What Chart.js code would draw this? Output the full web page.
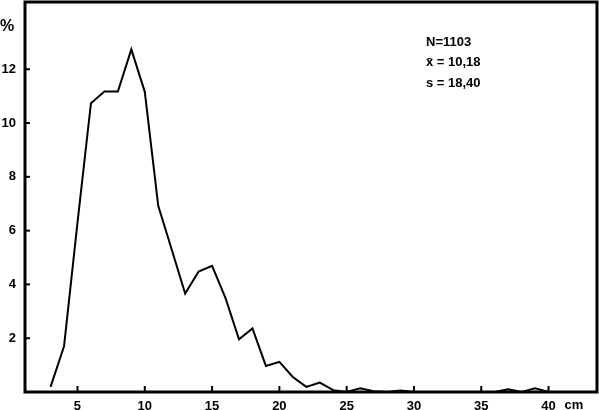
<!DOCTYPE html>
<html>
<head>
<meta charset="utf-8">
<script src="https://cdn.jsdelivr.net/npm/chart.js@4/dist/chart.umd.min.js"></script>
<style>
  html, body { margin: 0; padding: 0; background: #fff; }
  #wrap { width: 599px; height: 410px; position: relative; }
</style>
</head>
<body>
<div id="wrap"><canvas id="chart"></canvas></div>
<script>
// length classes (cm) and share of fish (%)
const lengths = [3, 4, 5, 6, 7, 8, 9, 10, 11, 12, 13, 14, 15, 16, 17, 18, 19, 20,
  21, 22, 23, 24, 25, 26, 27, 28, 29, 30, 31, 32, 33, 34, 35, 36, 37, 38, 39, 40];
const percent = [0.19, 1.7, 6.3, 10.74, 11.17, 11.17, 12.74, 11.16, 6.92, 5.3, 3.66, 4.48, 4.69, 3.49, 1.96, 2.36, 0.97, 1.12,
  0.56, 0.19, 0.35, 0.07, 0, 0.14, 0.03, 0, 0.06, 0, 0, 0, 0, 0, 0, 0, 0.1, 0, 0.14, 0];

const xTicks = [5, 10, 15, 20, 25, 30, 35, 40];
const yTicks = [2, 4, 6, 8, 10, 12];
const stats = ["N=1103", "x\u0304 = 10,18", "s = 18,40"];

const FONT = "Liberation Sans, Arial, Helvetica, sans-serif";

// frame, inward tick marks and the extra labels
const framePlugin = {
  id: "frame",
  afterDraw(chart) {
    const ctx = chart.ctx;
    const a = chart.chartArea;
    const xs = chart.scales.x;
    const ys = chart.scales.y;
    ctx.save();
    ctx.strokeStyle = "#000";

    ctx.lineWidth = 2;
    xTicks.forEach(t => {
      const px = xs.getPixelForValue(t);
      ctx.beginPath();
      ctx.moveTo(px, a.bottom);
      ctx.lineTo(px, a.bottom - 6);
      ctx.stroke();
    });
    yTicks.forEach(t => {
      const py = ys.getPixelForValue(t);
      ctx.beginPath();
      ctx.moveTo(a.left, py);
      ctx.lineTo(a.left + 5, py);
      ctx.stroke();
    });

    ctx.lineWidth = 3;
    ctx.strokeRect(a.left, a.top, a.right - a.left, a.bottom - a.top);

    ctx.fillStyle = "#000";
    ctx.textBaseline = "middle";
    ctx.textAlign = "left";
    ctx.font = "bold 16px " + FONT;
    ctx.fillText("%", 0, 27);
    ctx.font = "bold 13px " + FONT;
    ctx.fillText("cm", xs.getPixelForValue(40) + 16, 405);

    stats.forEach((s, i) => ctx.fillText(s, 426, 42 + i * 20.5));
    ctx.restore();
  }
};

new Chart(document.getElementById("chart"), {
  type: "line",
  data: {
    datasets: [{
      data: lengths.map((v, i) => ({ x: v, y: percent[i] })),
      borderColor: "#000",
      borderWidth: 2,
      pointRadius: 0,
      tension: 0,
      fill: false
    }]
  },
  options: {
    responsive: true,
    maintainAspectRatio: false,
    animation: false,
    layout: { padding: { top: 2, right: 2, left: 0, bottom: 0 } },
    plugins: { legend: { display: false }, tooltip: { enabled: false } },
    scales: {
      x: {
        type: "linear",
        min: 1.1,
        max: 43.6,
        grid: { display: false, drawTicks: false },
        border: { display: false },
        afterBuildTicks: s => { s.ticks = xTicks.map(v => ({ value: v })); },
        afterFit: s => { s.height = 18; s.paddingLeft = 0; s.paddingRight = 0; },
        ticks: { color: "#000", padding: 7, maxRotation: 0, autoSkip: false, font: { family: FONT, size: 13, weight: "bold" } }
      },
      y: {
        min: 0,
        max: 14.5,
        grid: { display: false, drawTicks: false },
        border: { display: false },
        afterBuildTicks: s => { s.ticks = yTicks.map(v => ({ value: v })); },
        afterFit: s => { s.width = 25; s.paddingTop = 0; s.paddingBottom = 0; },
        ticks: { color: "#000", padding: 9, autoSkip: false, font: { family: FONT, size: 13, weight: "bold" } }
      }
    }
  },
  plugins: [framePlugin]
});
</script>
</body>
</html>
